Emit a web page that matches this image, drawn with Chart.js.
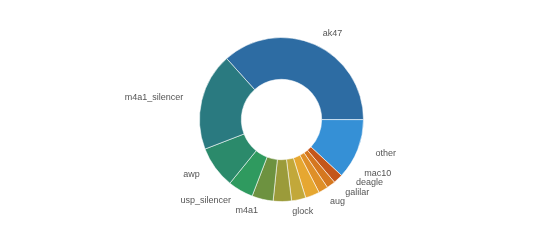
<!DOCTYPE html>
<html>
<head>
<meta charset="utf-8">
<script src="https://cdn.jsdelivr.net/npm/chart.js@4"></script>
<style>
  html, body { margin: 0; padding: 0; background: #fff; }
  #chart { display: block; }
</style>
</head>
<body>
<canvas id="chart" width="544" height="241"></canvas>
<script>
// weapon share of kills (%), clockwise from ak47
const weapons = ["ak47", "other", "mac10", "deagle", "galilar", "aug", "glock", "", "m4a1", "usp_silencer", "awp", "m4a1_silencer"];
const killShare = [36.7, 11.9, 1.9, 1.7, 1.9, 2.8, 2.8, 3.6, 4.2, 5.0, 8.3, 19.2];
const sliceColors = ["#2d6ca3", "#3590d6", "#c4561a", "#d5771f", "#df8f28", "#e6a731", "#c2a83a", "#9b9b3a", "#6d9240", "#2f9a5f", "#2b8a6b", "#2a7a80"];

// labels outside the ring, pushed apart vertically on each side
const outsideLabels = {
  id: "outsideLabels",
  afterDatasetsDraw(chart) {
    const ctx = chart.ctx;
    const meta = chart.getDatasetMeta(0);
    const gap = 9.5;
    const items = [];
    meta.data.forEach((arc, i) => {
      const name = chart.data.labels[i];
      if (!name) return;
      const p = arc.getProps(["x", "y", "startAngle", "endAngle", "outerRadius"], true);
      const mid = (p.startAngle + p.endAngle) / 2;
      const rx = p.outerRadius + 19;
      const ry = p.outerRadius + 12;
      items.push({
        name, cx: p.x, cy: p.y, rx, ry,
        x: p.x + Math.cos(mid) * rx,
        y: p.y + Math.sin(mid) * ry,
      });
    });

    const resolve = (side, sign) => {
      side.sort((a, b) => b.y - a.y);
      for (let k = 1; k < side.length; k++) {
        const prev = side[k - 1];
        const cur = side[k];
        if (cur.y > prev.y - gap) {
          cur.y = prev.y - gap;
          const t = (cur.y - cur.cy) / cur.ry;
          cur.x = cur.cx + sign * cur.rx * Math.sqrt(Math.max(0, 1 - t * t));
        }
      }
    };
    resolve(items.filter((d) => d.x >= d.cx), 1);
    resolve(items.filter((d) => d.x < d.cx), -1);

    ctx.save();
    ctx.font = "9px 'Liberation Sans', Arial, sans-serif";
    ctx.fillStyle = "#555";
    ctx.textBaseline = "middle";
    items.forEach((d) => {
      const dx = d.x - d.cx;
      if (Math.abs(dx) < 0.22 * d.rx) ctx.textAlign = "center";
      else ctx.textAlign = dx > 0 ? "left" : "right";
      ctx.fillText(d.name, d.x, d.y);
    });
    ctx.restore();
  },
};

const weaponChart = new Chart(document.getElementById("chart"), {
  type: "doughnut",
  data: {
    labels: weapons,
    datasets: [
      {
        data: killShare,
        backgroundColor: sliceColors,
        borderColor: "rgba(255, 255, 255, 0.7)",
        borderWidth: 0.8,
        radius: 82,
      },
    ],
  },
  options: {
    responsive: false,
    animation: false,
    devicePixelRatio: 1,
    cutout: "49%",
    rotation: -42,
    layout: {
      padding: { left: 19, right: 0, top: 0, bottom: 2 },
    },
    plugins: {
      legend: { display: false },
      tooltip: { enabled: false },
    },
  },
  plugins: [outsideLabels],
});
</script>
</body>
</html>
